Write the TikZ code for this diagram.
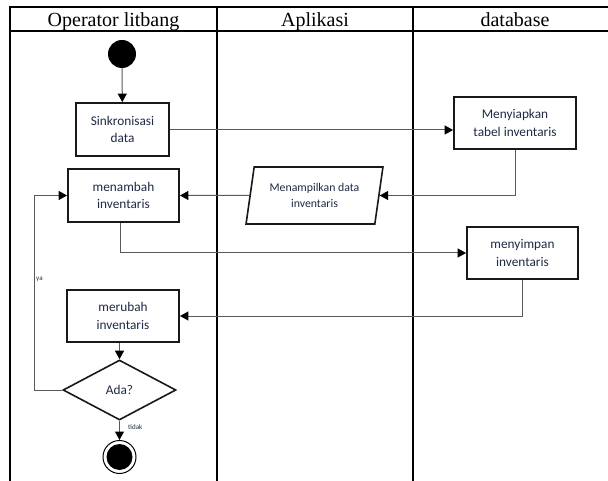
\documentclass[tikz,border=0pt]{standalone}
\usepackage{fontspec}
\setmainfont{Liberation Serif}
\newfontfamily\boxfont{Carlito}
\usetikzlibrary{arrows.meta,shapes.geometric,calc}
\definecolor{txtc}{HTML}{1F2A44}
\definecolor{linec}{HTML}{5A5A5A}
\begin{document}
\begin{tikzpicture}[x=1pt,y=-1pt,
  lane/.style={line width=1.5pt,black},
  actbox/.style={draw=black!90,line width=1.8pt,rectangle,inner sep=0pt,align=center,text=txtc,font=\boxfont\fontsize{13.3}{17.5}\selectfont},
  iobox/.style={draw=black!90,line width=1.6pt,trapezium,trapezium left angle=76,trapezium right angle=104,trapezium stretches=true,inner sep=0pt,align=center,text=txtc,font=\boxfont\fontsize{11.8}{16}\selectfont,minimum width=137pt,minimum height=57pt},
  decbox/.style={draw=black!90,line width=1.6pt,diamond,inner sep=0pt,minimum width=113pt,minimum height=60pt,text=txtc,font=\boxfont\fontsize{13.3}{16}\selectfont},
  flow/.style={draw=linec,line width=1pt,-{Triangle[length=8.5pt,width=9pt,fill=black,color=black]}},
  small/.style={text=txtc,font=\boxfont\fontsize{7}{8}\selectfont,inner sep=0pt},
  head/.style={font=\fontsize{20}{22}\selectfont,text=black,inner sep=0pt,anchor=base}
]
\useasboundingbox (0,0) rectangle (608,481);
\fill[white] (0,0) rectangle (608,481);
% swimlanes
\draw[lane] (10,481) -- (10,7) -- (608,7);
\draw[lane] (10,31) -- (608,31);
\draw[lane] (217,7) -- (217,481);
\draw[lane] (413,7) -- (413,481);
\node[head] (h1) at (113.5,26.5) {Operator litbang};
\node[head] (h2) at (315,26.5) {Aplikasi};
\node[head] (h3) at (515,26.5) {database};
% nodes
\node[circle,fill=black,minimum size=28pt,inner sep=0pt] (start) at (122,54) {};
\node[actbox,minimum width=93pt,minimum height=53pt] (sink) at (122.5,129.5) {Sinkronisasi\\data};
\node[actbox,minimum width=111pt,minimum height=53pt] (tambah) at (123.5,195.5) {menambah\\inventaris};
\node[actbox,minimum width=122pt,minimum height=52pt] (siap) at (515,123) {Menyiapkan\\tabel inventaris};
\node[iobox] (tampil) at (314.5,195.5) {Menampilkan data\\inventaris};
\node[actbox,minimum width=111pt,minimum height=52pt] (simpan) at (522.5,253) {menyimpan\\inventaris};
\node[actbox,minimum width=112pt,minimum height=52pt] (ubah) at (123,316) {merubah\\inventaris};
\node[decbox] (ada) at (119.5,390) {Ada?};
\node[circle,draw=black,line width=1pt,minimum size=33pt,inner sep=0pt] (end) at (119.5,457) {};
\fill[black] (end.center) circle (13pt);
% connectors
\draw[flow] (start) -- (sink);
\draw[flow] (sink.east |- 0,130) -- (siap.west |- 0,130);
\draw[flow] (siap.south) |- (tampil.east);
\draw[flow] (tampil.west) -- (tambah.east);
\draw[flow] (tambah.south -| 120,0) |- (simpan.west);
\draw[flow] (simpan.south) |- (ubah.east);
\draw[flow] (ubah.south -| ada.north) -- (ada.north);
\coordinate (loop) at (34,390);
\draw[flow] (ada.west) -- (loop) |- (tambah.west);
\node[small,anchor=west] (ya) at (36,279) {ya};
\draw[flow] (ada.south) -- (end.north);
\node[small,anchor=west] (tidak) at (128,427) {tidak};
\end{tikzpicture}
\end{document}
